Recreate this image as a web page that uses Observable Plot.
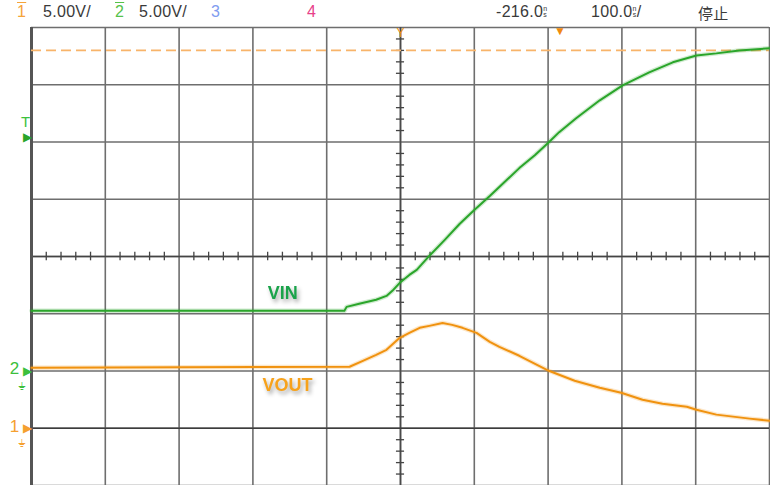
<!DOCTYPE html>
<html>
<head>
<meta charset="utf-8">
<script src="https://cdn.jsdelivr.net/npm/d3@7"></script>
<script src="https://cdn.jsdelivr.net/npm/@observablehq/plot@0.6"></script>
<style>
  html, body { margin: 0; padding: 0; background: #fff; }
  #wrap { position: relative; width: 770px; height: 485px; overflow: hidden; font-family: "Liberation Sans", "DejaVu Sans", sans-serif; }
  #head { position: absolute; left: 0; top: 0; width: 770px; height: 27px; font-size: 16px; color: #3a3a3a; z-index: 2; }
  #head span.h { position: absolute; top: 3px; white-space: nowrap; letter-spacing: 0.3px; }
  .ov { text-decoration: overline; }
  .ns { display: inline-block; font-size: 7px; line-height: 6px; vertical-align: top; margin-top: 3px; text-align: center; }
  #chart { position: absolute; left: 0; top: 0; }
  .lbl text { filter: drop-shadow(2px 3px 2px rgba(0,0,0,0.35)); }
</style>
</head>
<body>
<div id="wrap">
  <div id="head"></div>
  <div id="chart"></div>
</div>
<script>
// ---- Data ----
const timeTicks = [-500, -400, -300, -200, -100, 0, 100, 200, 300, 400, 500]; // ns, 100 ns/div
const divTicks = [-4, -3, -2, -1, 0, 1, 2, 3, 4];
const voltsPerDiv = 5;

// Channel 2 (VIN, green), ground at -2 div
const vinTime = [-500, -76, -73, -56, -33, -19, -11, -1, 12, 22, 39, 60, 80, 100, 121, 141, 161, 182, 201, 215, 238, 270, 301, 337, 369, 401, 428, 459, 500];
const vinVolts = [5.26, 5.26, 5.60, 5.87, 6.22, 6.56, 7.00, 7.70, 8.39, 8.83, 10.05, 11.45, 12.84, 14.06, 15.28, 16.50, 17.72, 18.85, 19.98, 20.86, 22.08, 23.64, 24.95, 26.08, 26.96, 27.56, 27.74, 28.00, 28.18];

// Channel 1 (VOUT, orange), ground at -3 div
const voutTime = [-500, -69, -51, -33, -19, -1, 12, 26, 39, 57, 70, 84, 103, 121, 134, 161, 201, 236, 270, 299, 328, 355, 388, 401, 428, 473, 500];
const voutVolts = [5.28, 5.37, 5.89, 6.41, 6.85, 7.90, 8.33, 8.77, 8.94, 9.20, 9.03, 8.77, 8.33, 7.55, 7.11, 6.33, 5.02, 4.15, 3.54, 3.10, 2.49, 2.14, 1.88, 1.62, 1.19, 0.84, 0.66];

const channels = ["1", "2"];
const channelOffsets = [-3, -2];            // ground marker positions (div)
const channelColors = ["#f0920f", "#2aa52a"];
const markerColors = ["#f5a030", "#3cbf3c"];
const labelNames = ["VOUT", "VIN"];
const labelTimes = [-187, -180];             // label anchor times (ns)
const labelVolts = [3.8, 6.8];               // label anchor volts
const triggerLevelV1 = 33;                   // ch1 trigger level (V)
const trigTV2 = 20.4;                        // ch2 "T" marker (V)
const triggerTime = 216;                     // ns

const headerItems = [
  {t: "1", cls: "ov", color: "#f5a43a", x: 17},
  {t: "5.00V/", color: "#3a3a3a", x: 43},
  {t: "2", cls: "ov", color: "#55c24a", x: 115},
  {t: "5.00V/", color: "#3a3a3a", x: 139},
  {t: "3", color: "#7f9cf0", x: 211},
  {t: "4", color: "#e8408a", x: 307},
  {t: "-216.0", unit: "", color: "#3a3a3a", x: 496},
  {t: "100.0", unit: "/", color: "#3a3a3a", x: 591},
  {t: "停止", color: "#3a3a3a", x: 698, cjk: true}
];

// ---- Header ----
const head = document.getElementById("head");
for (const h of headerItems) {
  const s = document.createElement("span");
  s.className = "h" + (h.cls ? " " + h.cls : "");
  s.style.left = h.x + "px";
  s.style.color = h.color;
  if (h.cjk) { s.style.fontFamily = '"Noto Sans CJK SC", sans-serif'; s.style.fontSize = "15px"; s.style.top = "2px"; }
  if (h.unit !== undefined) {
    s.innerHTML = h.t + '<span class="ns">n<br>s</span>' + h.unit;
  } else s.textContent = h.t;
  head.appendChild(s);
}

// ---- Chart ----
const vin = vinTime.map((t, i) => ({t, d: vinVolts[i] / voltsPerDiv + channelOffsets[1]}));
const vout = voutTime.map((t, i) => ({t, d: voutVolts[i] / voltsPerDiv + channelOffsets[0]}));
const minorT = d3.range(-500, 501, 20).filter(v => v % 100 !== 0);
const minorD = d3.range(-4, 4.001, 0.2).map(v => Math.round(v * 10) / 10).filter(v => Math.abs(v % 1) > 1e-6);
const labels = labelNames.map((n, i) => ({n, t: labelTimes[i], d: labelVolts[i] / voltsPerDiv + channelOffsets[i]}));
const markers = channels.map((c, i) => ({c, d: channelOffsets[i], color: markerColors[i]}));

const plot = Plot.plot({
  width: 770, height: 485,
  marginLeft: 31, marginRight: 1, marginTop: 27, marginBottom: 0,
  x: {domain: [-500, 500], axis: null},
  y: {domain: [-4, 4], axis: null},
  style: {background: "transparent", overflow: "visible"},
  marks: [
    Plot.ruleX(timeTicks, {stroke: "#6e6e6e", strokeWidth: 1.6}),
    Plot.ruleY(divTicks, {stroke: "#6e6e6e", strokeWidth: 1.6}),
    Plot.ruleX([0], {stroke: "#4a4a4a", strokeWidth: 1.6}),
    Plot.ruleY([0], {stroke: "#444", strokeWidth: 1.6}),
    Plot.ruleY([channelOffsets[0]], {stroke: "#3c3c3c", strokeWidth: 1.6}),
    Plot.ruleX([-500], {stroke: "#555", strokeWidth: 3}),
    Plot.ruleX(minorT, {y1: -0.075, y2: 0.075, stroke: "#444", strokeWidth: 1.3}),
    Plot.ruleY(minorD, {x1: -5.5, x2: 5.5, stroke: "#444", strokeWidth: 1.3}),
    // trigger level dashed line
    Plot.ruleY([triggerLevelV1 / voltsPerDiv + channelOffsets[0]], {stroke: "#f8b46a", strokeWidth: 1.6, strokeDasharray: "10,5"}),
    // traces
    Plot.line(vout, {x: "t", y: "d", stroke: channelColors[0], strokeWidth: 4.5, strokeOpacity: 0.22}),
    Plot.line(vin, {x: "t", y: "d", stroke: channelColors[1], strokeWidth: 4.5, strokeOpacity: 0.22}),
    Plot.line(vout, {x: "t", y: "d", stroke: channelColors[0], strokeWidth: 2}),
    Plot.line(vin, {x: "t", y: "d", stroke: channelColors[1], strokeWidth: 2}),
    // labels with shadow
    Plot.text(labels, {x: "t", y: "d", text: "n", className: "lbl", fill: d => d.n === "VIN" ? "#1aa34a" : "#f7a21b", fontSize: 18, fontWeight: "bold", textAnchor: "start", fontFamily: "Liberation Sans, sans-serif"}),
    // channel ground markers
    Plot.text(markers, {x: -500, y: "d", text: "c", fill: "color", dx: -17, dy: -2, fontSize: 17, fontFamily: "Liberation Sans, sans-serif"}),
    Plot.text(markers, {x: -500, y: "d", text: () => "▶", fill: "color", dx: -4, fontSize: 12}),
    Plot.text(markers, {x: -500, y: "d", text: () => "⏚", fill: "color", dx: -10, dy: 15, fontSize: 11}),
    // trigger T marker
    Plot.text([trigTV2 / voltsPerDiv + channelOffsets[1]], {x: -500, y: d => d, text: () => "T", fill: "#3cc23c", dx: -6, dy: -15, fontSize: 15, fontFamily: "Liberation Sans, sans-serif"}),
    Plot.text([trigTV2 / voltsPerDiv + channelOffsets[1]], {x: -500, y: d => d, text: () => "▶", fill: "#2aa52a", dx: -4, fontSize: 12}),
    // top markers
    Plot.text([0], {x: d => d, y: 4, text: () => "Y", fill: "#f0920f", dy: 6, fontSize: 12, fontFamily: "Liberation Sans, sans-serif"}),
    Plot.text([triggerTime], {x: d => d, y: 4, text: () => "▼", fill: "#f08a10", dy: 4, fontSize: 12})
  ]
});
document.getElementById("chart").appendChild(plot);
</script>
</body>
</html>
